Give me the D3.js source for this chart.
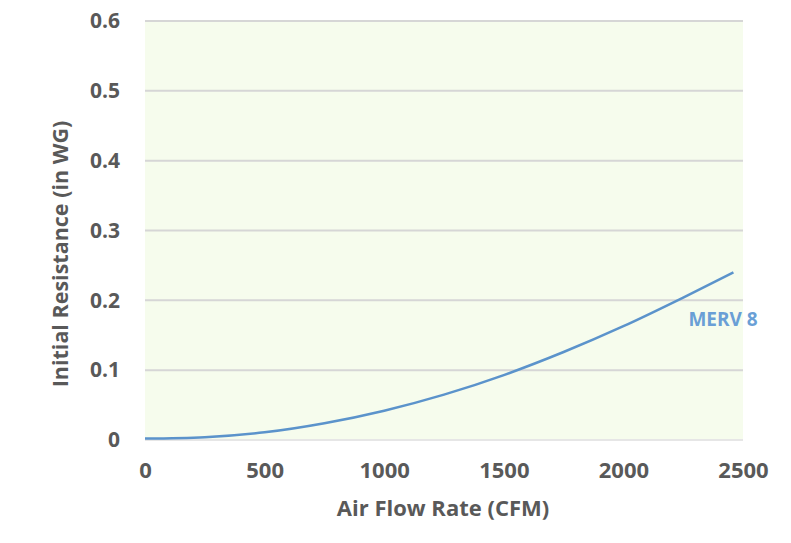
<!DOCTYPE html>
<html><head><meta charset="utf-8">
<script src="https://cdn.jsdelivr.net/npm/d3@7"></script>
<style>body{margin:0;background:#fff}svg{display:block}</style>
</head><body><svg id="c" width="791" height="543"></svg>
<script>
const cfm = [0, 250, 500, 750, 1000, 1250, 1500, 1750, 2000, 2250, 2460];
const merv8 = [0.002, 0.004, 0.011, 0.024, 0.042, 0.065, 0.093, 0.126, 0.163, 0.204, 0.240];
const xTicks = [0, 500, 1000, 1500, 2000, 2500];
const yTicks = [0, 0.1, 0.2, 0.3, 0.4, 0.5, 0.6];
const seriesName = "MERV 8";
const xTitle = "Air Flow Rate (CFM)";
const yTitle = "Initial Resistance (in WG)";

const svg = d3.select("#c");
const m = {l:145, r:743, t:21, b:440};
const x = d3.scaleLinear().domain([0,2500]).range([m.l,m.r]);
const y = d3.scaleLinear().domain([0,0.6]).range([m.b,m.t]);
const font = "'Open Sans', sans-serif";
const tc = "#595959";

svg.append("rect").attr("x",m.l).attr("y",m.t).attr("width",m.r-m.l).attr("height",m.b-m.t).attr("fill","#f6fced");

svg.append("g").selectAll("line").data(yTicks.filter(d=>d>0)).join("line")
  .attr("x1",m.l).attr("x2",m.r).attr("y1",d=>y(d)).attr("y2",d=>y(d))
  .attr("stroke","#d6d6d6").attr("stroke-width",2);
svg.append("line").attr("x1",m.l).attr("x2",m.r).attr("y1",y(0)).attr("y2",y(0))
  .attr("stroke","#e6e6e6").attr("stroke-width",2);

const yAxis = svg.append("g").attr("transform",`translate(${m.l},0)`)
  .call(d3.axisLeft(y).tickValues(yTicks).tickFormat(d=>d===0?"0":d3.format(".1f")(d)).tickSize(0).tickPadding(25));
yAxis.select(".domain").remove();
yAxis.selectAll("text").attr("font-family",font).attr("font-weight","bold").attr("font-size","21px").attr("fill",tc);

const xAxis = svg.append("g").attr("transform",`translate(0,${m.b})`)
  .call(d3.axisBottom(x).tickValues(xTicks).tickFormat(d3.format("d")).tickSize(0).tickPadding(22));
xAxis.select(".domain").remove();
xAxis.selectAll("text").attr("font-family",font).attr("font-weight","bold").attr("font-size","22px").attr("fill",tc);

const pts = cfm.map((c,i)=>[c, merv8[i]]);
svg.append("path").datum(pts)
  .attr("d", d3.line().x(d=>x(d[0])).y(d=>y(d[1])).curve(d3.curveMonotoneX))
  .attr("fill","none").attr("stroke","#5b93cb").attr("stroke-width",2.5);

svg.append("text").attr("x",723).attr("y",326).attr("text-anchor","middle")
  .attr("font-family",font).attr("font-weight","bold").attr("font-size","19px").attr("fill","#6a9fd6").text(seriesName);

svg.append("text").attr("x",443).attr("y",516).attr("text-anchor","middle")
  .attr("font-family",font).attr("font-weight","bold").attr("font-size","22px").attr("fill",tc).text(xTitle);

svg.append("text").attr("transform","translate(68,254) rotate(-90)").attr("text-anchor","middle")
  .attr("font-family",font).attr("font-weight","bold").attr("font-size","21.5px").attr("fill",tc).text(yTitle);
</script></body></html>
